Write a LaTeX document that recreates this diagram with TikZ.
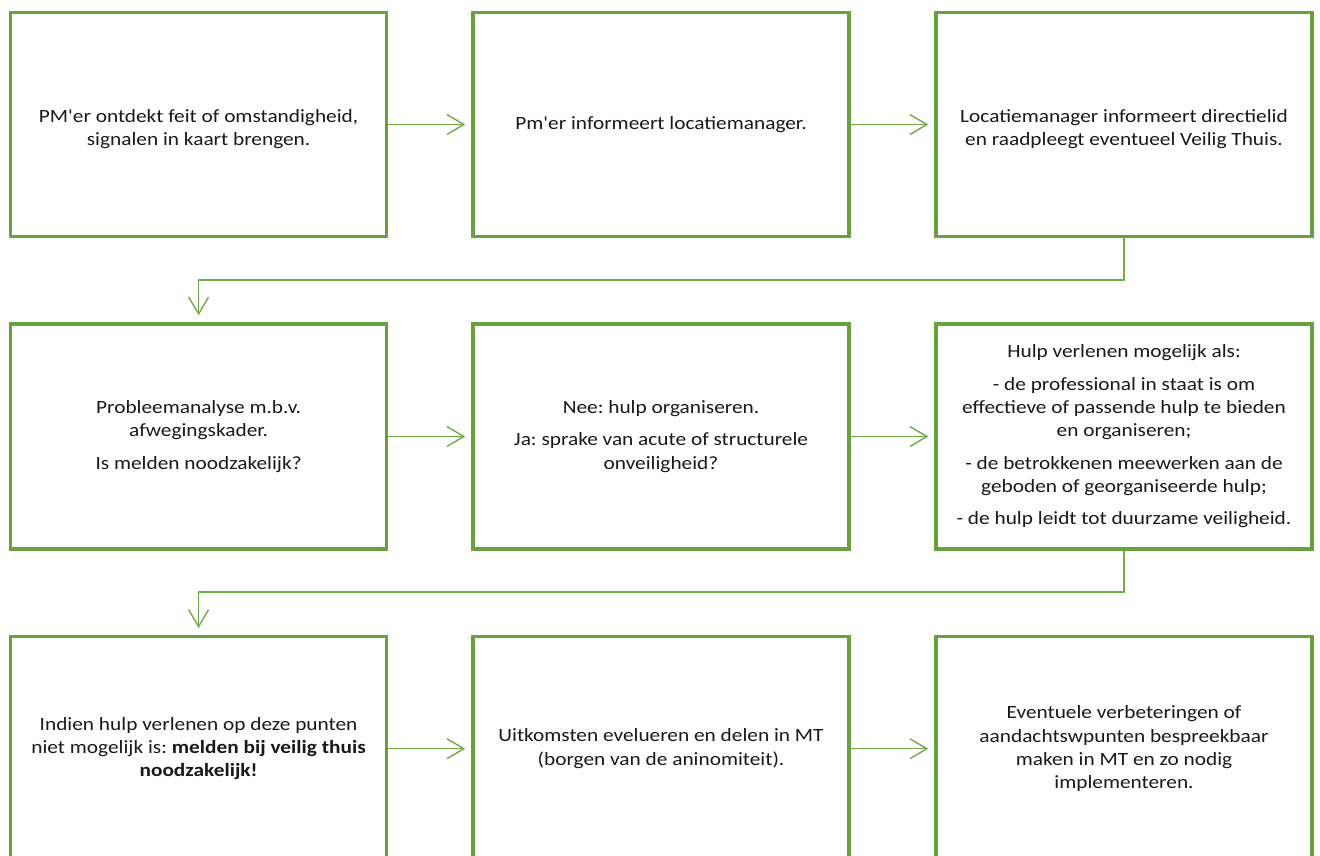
\documentclass[tikz,border=0pt]{standalone}
\usepackage{fontspec}
\newfontfamily\calfont{Carlito}[FakeStretch=1.14]
\usetikzlibrary{arrows.meta,calc}
\definecolor{boxgreen}{RGB}{106,160,64}
\definecolor{linegreen}{RGB}{112,173,71}
\newcommand\topstrut{\rule{0pt}{22pt}}
\tikzset{
  stepbox/.style={draw=boxgreen, line width=3.5pt, fill=white, minimum width=376pt, minimum height=224pt, inner sep=0pt, align=center, font=\calfont\frenchspacing\fontsize{18.7pt}{23.3pt}\selectfont, text=black!90},
  conn/.style={draw=linegreen, line width=1.4pt, -{Straight Barb[length=17pt,width=20pt,line width=1.4pt]}}
}
\begin{document}
\begin{tikzpicture}[x=1pt,y=-1pt]
\clip (0,0) rectangle (1320,856);
\fill[white] (0,0) rectangle (1320,856);
% row 1
\node[stepbox] (b1) at (198.6,124.5) {\topstrut PM'er ontdekt feit of omstandigheid,\\signalen in kaart brengen.};
\node[stepbox] (b2) at (661,124.5) {Pm'er informeert locatiemanager.};
\node[stepbox] (b3) at (1124,124.5) {\topstrut Locatiemanager informeert directielid\\en raadpleegt eventueel Veilig Thuis.};
% row 2
\node[stepbox, minimum height=225pt] (b4) at (198.6,436.5) {Probleemanalyse m.b.v.\\afwegingskader.\\[9pt]Is melden noodzakelijk?};
\node[stepbox, minimum height=225pt] (b5) at (661,436.5) {Nee: hulp organiseren.\\[9pt]Ja: sprake van acute of structurele\\onveiligheid?};
\node[stepbox, minimum height=225pt] (b6) at (1124,436.5) {Hulp verlenen mogelijk als:\\[9pt]- de professional in staat is om\\effectieve of passende hulp te bieden\\en organiseren;\\[9pt]- de betrokkenen meewerken aan de\\geboden of georganiseerde hulp;\\[9pt]- de hulp leidt tot duurzame veiligheid.};
% row 3
\node[stepbox] (b7) at (198.6,748.7) {Indien hulp verlenen op deze punten\\niet mogelijk is: \textbf{melden bij veilig thuis}\\\textbf{noodzakelijk!}};
\node[stepbox] (b8) at (661,748.7) {Uitkomsten evelueren en delen in MT\\(borgen van de aninomiteit).};
\node[stepbox] (b9) at (1124,748.7) {Eventuele verbeteringen of\\aandachtswpunten bespreekbaar\\maken in MT en zo nodig\\implementeren.};
% connectors
\draw[conn] (b1.east) -- ($(b2.west)+(-6,0)$);
\draw[conn] (b2.east) -- ($(b3.west)+(-6,0)$);
\draw[conn] (b3.south) -- (b3.south |- 0,280) -| ($(b4.north)+(0,-7)$);
\draw[conn] (b4.east) -- ($(b5.west)+(-6,0)$);
\draw[conn] (b5.east) -- ($(b6.west)+(-6,0)$);
\draw[conn] (b6.south) -- (b6.south |- 0,592) -| ($(b7.north)+(0,-7)$);
\draw[conn] (b7.east) -- ($(b8.west)+(-6,0)$);
\draw[conn] (b8.east) -- ($(b9.west)+(-6,0)$);
\end{tikzpicture}
\end{document}
